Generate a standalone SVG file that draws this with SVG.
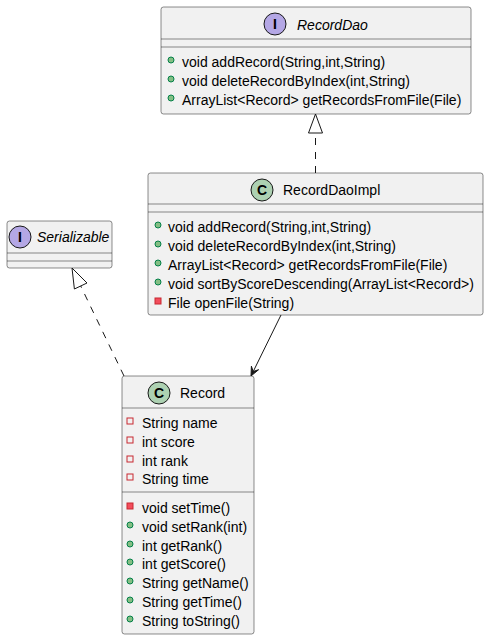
<svg xmlns="http://www.w3.org/2000/svg" width="489" height="640" viewBox="0 0 489 640">
<style>
.box{fill:#F1F1F1;stroke:#181818;stroke-width:0.5}
.sep{stroke:#181818;stroke-width:0.5}
.t{font-family:"Liberation Sans",Arial,sans-serif;font-size:14px;fill:#000}
.it{font-style:italic}
.ci{fill:#B4A7E5;stroke:#181818;stroke-width:1}
.cc{fill:#ADD1B2;stroke:#181818;stroke-width:1}
.letter{font-family:"Liberation Sans",Arial,sans-serif;font-size:14px;font-weight:bold;fill:#000;text-anchor:middle}
.pub{fill:#84BE84;stroke:#038048;stroke-width:1}
.privm{fill:#F24D5C;stroke:#C82930;stroke-width:1}
.privf{fill:none;stroke:#C82930;stroke-width:1}
.link{fill:none;stroke:#181818;stroke-width:1}
.dash{stroke-dasharray:7,7}
</style>
<rect width="489" height="640" fill="#FFFFFF"/>

<g id="RecordDao">
<rect class="box" x="161" y="7" width="310" height="107" rx="2.5"/>
<circle class="ci" cx="275" cy="24" r="11"/>
<text class="letter" x="275" y="29">I</text>
<text class="t it" x="297" y="30">RecordDao</text>
<line class="sep" x1="161" y1="39" x2="471" y2="39"/>
<line class="sep" x1="161" y1="47" x2="471" y2="47"/>
<circle class="pub" cx="171" cy="60" r="3"/>
<text class="t" x="182" y="67">void addRecord(String,int,String)</text>
<circle class="pub" cx="171" cy="79" r="3"/>
<text class="t" x="182" y="86">void deleteRecordByIndex(int,String)</text>
<circle class="pub" cx="171" cy="98" r="3"/>
<text class="t" x="182" y="105">ArrayList&lt;Record&gt; getRecordsFromFile(File)</text>
</g>

<g id="RecordDaoImpl">
<rect class="box" x="148" y="173" width="335" height="142" rx="2.5"/>
<circle class="cc" cx="262" cy="190" r="11"/>
<text class="letter" x="262" y="195">C</text>
<text class="t" x="283" y="195">RecordDaoImpl</text>
<line class="sep" x1="148" y1="204" x2="483" y2="204"/>
<line class="sep" x1="148" y1="212" x2="483" y2="212"/>
<circle class="pub" cx="158" cy="225" r="3"/>
<text class="t" x="168" y="232">void addRecord(String,int,String)</text>
<circle class="pub" cx="158" cy="244" r="3"/>
<text class="t" x="168" y="251">void deleteRecordByIndex(int,String)</text>
<circle class="pub" cx="158" cy="263" r="3"/>
<text class="t" x="168" y="270">ArrayList&lt;Record&gt; getRecordsFromFile(File)</text>
<circle class="pub" cx="158" cy="282" r="3"/>
<text class="t" x="168" y="289">void sortByScoreDescending(ArrayList&lt;Record&gt;)</text>
<rect class="privm" x="155" y="298" width="6" height="6"/>
<text class="t" x="168" y="308">File openFile(String)</text>
</g>

<g id="Serializable">
<rect class="box" x="7" y="221" width="105" height="47" rx="2.5"/>
<circle class="ci" cx="20" cy="237" r="11"/>
<text class="letter" x="20" y="242">I</text>
<text class="t it" x="37" y="242">Serializable</text>
<line class="sep" x1="7" y1="253" x2="112" y2="253"/>
<line class="sep" x1="7" y1="261" x2="112" y2="261"/>
</g>

<g id="Record">
<rect class="box" x="122" y="376" width="132" height="258" rx="2.5"/>
<circle class="cc" cx="159" cy="393" r="11"/>
<text class="letter" x="159" y="398">C</text>
<text class="t" x="180" y="398">Record</text>
<line class="sep" x1="122" y1="408" x2="254" y2="408"/>
<rect class="privf" x="127" y="418" width="6" height="6"/>
<text class="t" x="142" y="428">String name</text>
<rect class="privf" x="127" y="437" width="6" height="6"/>
<text class="t" x="142" y="447">int score</text>
<rect class="privf" x="127" y="456" width="6" height="6"/>
<text class="t" x="142" y="466">int rank</text>
<rect class="privf" x="127" y="474" width="6" height="6"/>
<text class="t" x="142" y="484">String time</text>
<line class="sep" x1="122" y1="492" x2="254" y2="492"/>
<rect class="privm" x="127" y="503" width="6" height="6"/>
<text class="t" x="142" y="513">void setTime()</text>
<circle class="pub" cx="130" cy="525" r="3"/>
<text class="t" x="142" y="532">void setRank(int)</text>
<circle class="pub" cx="130" cy="544" r="3"/>
<text class="t" x="142" y="551">int getRank()</text>
<circle class="pub" cx="130" cy="562" r="3"/>
<text class="t" x="142" y="569">int getScore()</text>
<circle class="pub" cx="130" cy="581" r="3"/>
<text class="t" x="142" y="588">String getName()</text>
<circle class="pub" cx="130" cy="600" r="3"/>
<text class="t" x="142" y="607">String getTime()</text>
<circle class="pub" cx="130" cy="619" r="3"/>
<text class="t" x="142" y="626">String toString()</text>
</g>

<g id="connectors">
<line class="link dash" x1="315.5" y1="173" x2="315.5" y2="133"/>
<polygon points="315.5,114 322.5,133 308.5,133" fill="none" stroke="#181818" stroke-width="1"/>
<line class="link dash" x1="124" y1="376" x2="80.7" y2="286"/>
<polygon points="72,268 87,283 74.4,289" fill="none" stroke="#181818" stroke-width="1"/>
<line class="link" x1="281" y1="315" x2="252.5" y2="373"/>
<polygon points="251,376 251.4,366.2 253.2,371.5 258.6,369.7" fill="#181818" stroke="#181818" stroke-width="1"/>
</g>
</svg>
